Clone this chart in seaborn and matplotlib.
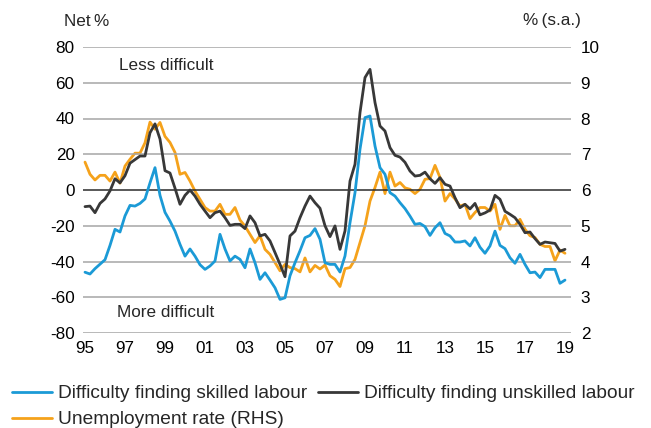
import numpy as np
import pandas as pd
import matplotlib
matplotlib.use("Agg")
import matplotlib.pyplot as plt
from matplotlib.lines import Line2D
import seaborn as sns

# Quarterly, 1995 Q1 to 2019 Q1
skilled = [
    -46, -47, -44, -41.5, -39, -31, -22, -23.5, -14.5, -8.6,
    -9, -7.5, -5, 4, 12.5, -3, -12.5, -17.4, -23, -30.4,
    -37, -33, -37, -41.8, -44.4, -42.5, -39.7, -24.8, -33, -39.7,
    -37, -38.8, -43.5, -33, -40.7, -50, -46.3, -50.4, -54.7, -61.2,
    -60.3, -48, -40.7, -34, -26.7, -25.4, -21.6, -27.6, -40.7, -41.6,
    -41.6, -45.9, -36.9, -18.3, -1.5, 22.8, 40.5, 41.4, 24.6, 12.5,
    8.8, -1.5, -3.4, -7.1, -10.4, -14.6, -19.2, -18.7, -20.5, -25.4,
    -21.1, -18.3, -24.3, -25.7, -29.1, -29.1, -28.5, -31.3, -26.7, -32,
    -35.4, -31.3, -23, -31, -32.8, -37.9, -41, -36, -41.6, -46.3,
    -45.9, -49, -44.4, -44.4, -44.4, -52.2, -50.4,
]
unskilled = [
    -9.3, -9, -12.7, -7.5, -5, -0.5, 6.3, 4, 8, 15,
    17, 19, 19, 32, 37, 28.5, 10.8, 9.5, 1, -8,
    -3, 0, -3.4, -8, -11.8, -15.5, -12.7, -11.8, -15.5, -19.8,
    -19.2, -19.2, -21.6, -14.5, -18.3, -25.7, -24.8, -28.5, -35, -41.6,
    -48.5, -25.7, -23, -15.5, -9, -3.4, -7.1, -10.2, -20, -26.1,
    -20.1, -33.2, -22.9, 5, 14.4, 43.3, 62.9, 67.5, 48.9, 35.8,
    33, 23.7, 19.4, 18.4, 15.5, 10.6, 7.8, 8.2, 10, 6.3,
    3.7, 6.9, 3.2, 2.2, -4.3, -9.9, -8, -10.6, -7.5, -13.9,
    -12.8, -11.2, -3, -5.2, -11.9, -13.6, -15.5, -19.2, -23.9, -23.5,
    -27.2, -30.4, -29.1, -29.5, -29.9, -34.2, -33.2,
]
unemployment = [
    6.78, 6.44, 6.28, 6.41, 6.41, 6.25, 6.5, 6.19, 6.67, 6.86,
    7.03, 7.03, 7.32, 7.9, 7.7, 7.89, 7.5, 7.33, 7.05, 6.44,
    6.49, 6.25, 5.97, 5.74, 5.51, 5.41, 5.41, 5.6, 5.32, 5.32,
    5.51, 5.16, 4.99, 4.76, 4.53, 4.72, 4.34, 4.2, 3.97, 3.74,
    3.92, 3.83, 3.8, 3.71, 4.1, 3.71, 3.89, 3.79, 3.9, 3.6,
    3.5, 3.3, 3.8, 3.83, 4.06, 4.53, 5.0, 5.69, 6.07, 6.5,
    5.9, 6.5, 6.11, 6.21, 6.06, 6.02, 5.9, 6.02, 6.3, 6.32,
    6.69, 6.35, 5.69, 5.9, 5.75, 5.55, 5.6, 5.2, 5.37, 5.51,
    5.51, 5.41, 5.6, 4.9, 5.29, 5.0, 5.0, 5.18, 4.9, 4.72,
    4.67, 4.48, 4.42, 4.42, 4.02, 4.32, 4.23,
]
dates = 1995 + np.arange(len(skilled)) / 4.0

left_ticks = [-80, -60, -40, -20, 0, 20, 40, 60, 80]
right_ticks = [2, 3, 4, 5, 6, 7, 8, 9, 10]
year_ticks = list(range(1995, 2020, 2))
year_labels = [f"{y % 100:02d}" for y in year_ticks]

label_skilled = "Difficulty finding skilled labour"
label_unskilled = "Difficulty finding unskilled labour"
label_unemp = "Unemployment rate (RHS)"

c_skilled = "#1b9ad6"
c_unskilled = "#383838"
c_unemp = "#f5a21b"

sns.set_theme(style="white")
plt.rcParams["font.family"] = ["Liberation Sans", "DejaVu Sans"]
plt.rcParams["axes.unicode_minus"] = False
FS = 12.3
FS_LEG = 13.8

left_df = pd.DataFrame({
    "date": np.concatenate([dates, dates]),
    "value": skilled + unskilled,
    "series": [label_skilled] * len(dates) + [label_unskilled] * len(dates),
})
right_df = pd.DataFrame({"date": dates, "value": unemployment})

fig = plt.figure(figsize=(6.51, 4.28), dpi=100)
ax = fig.add_axes([83 / 651, 1 - 333 / 428, (571 - 83) / 651, (333 - 47) / 428])
ax2 = ax.twinx()

# gridlines on the left scale, zero line darker
for t in left_ticks:
    ax.axhline(t, color="#a6a6a6" if t != 0 else "#2b2b2b", lw=1.1, zorder=0)

sns.lineplot(data=left_df, x="date", y="value", hue="series",
             palette={label_skilled: c_skilled, label_unskilled: c_unskilled},
             hue_order=[label_skilled, label_unskilled],
             lw=2, ax=ax, legend=False)
sns.lineplot(data=right_df, x="date", y="value", color=c_unemp, lw=2,
             ax=ax2, legend=False)
# left-scale lines drawn above the unemployment line
ax.set_zorder(ax2.get_zorder() + 1)
ax.patch.set_visible(False)

ax.set_xlim(1994.9, 2019.3)
ax.set_ylim(-80, 80)
ax2.set_ylim(2, 10)
ax.set_xticks(year_ticks)
ax.set_xticklabels(year_labels)
ax.set_yticks(left_ticks)
ax2.set_yticks(right_ticks)
ax.set_xlabel("")
ax.set_ylabel("")
ax2.set_xlabel("")
ax2.set_ylabel("")

for a in (ax, ax2):
    for s in a.spines.values():
        s.set_visible(False)
    a.tick_params(length=0, labelsize=FS, colors="black")
ax.tick_params(axis="y", pad=6)
ax2.tick_params(axis="y", pad=7)
ax.tick_params(axis="x", pad=6)

ax.text(1999.05, 69.6, "Less difficult", ha="center", va="center", fontsize=FS)
ax.text(1999.05, -68.3, "More difficult", ha="center", va="center", fontsize=FS)

fig.text(87 / 651, 1 - 21 / 428, "Net\u2009%", ha="center", va="center", fontsize=FS)
fig.text(552 / 651, 1 - 21 / 428, "%\u2009(s.a.)", ha="center", va="center", fontsize=FS)

handles = [
    Line2D([], [], color=c_skilled, lw=2),
    Line2D([], [], color=c_unemp, lw=2),
    Line2D([], [], color=c_unskilled, lw=2),
]
labels = [label_skilled, label_unemp, label_unskilled]
fig.legend(handles, labels, loc="upper left", bbox_to_anchor=(12 / 651, 1 - 385 / 428),
           ncol=2, frameon=False, fontsize=FS_LEG, handlelength=2.1,
           handletextpad=0.3, columnspacing=0.55, labelspacing=0.45,
           borderpad=0, borderaxespad=0)

fig.savefig("out.png", dpi=100)
